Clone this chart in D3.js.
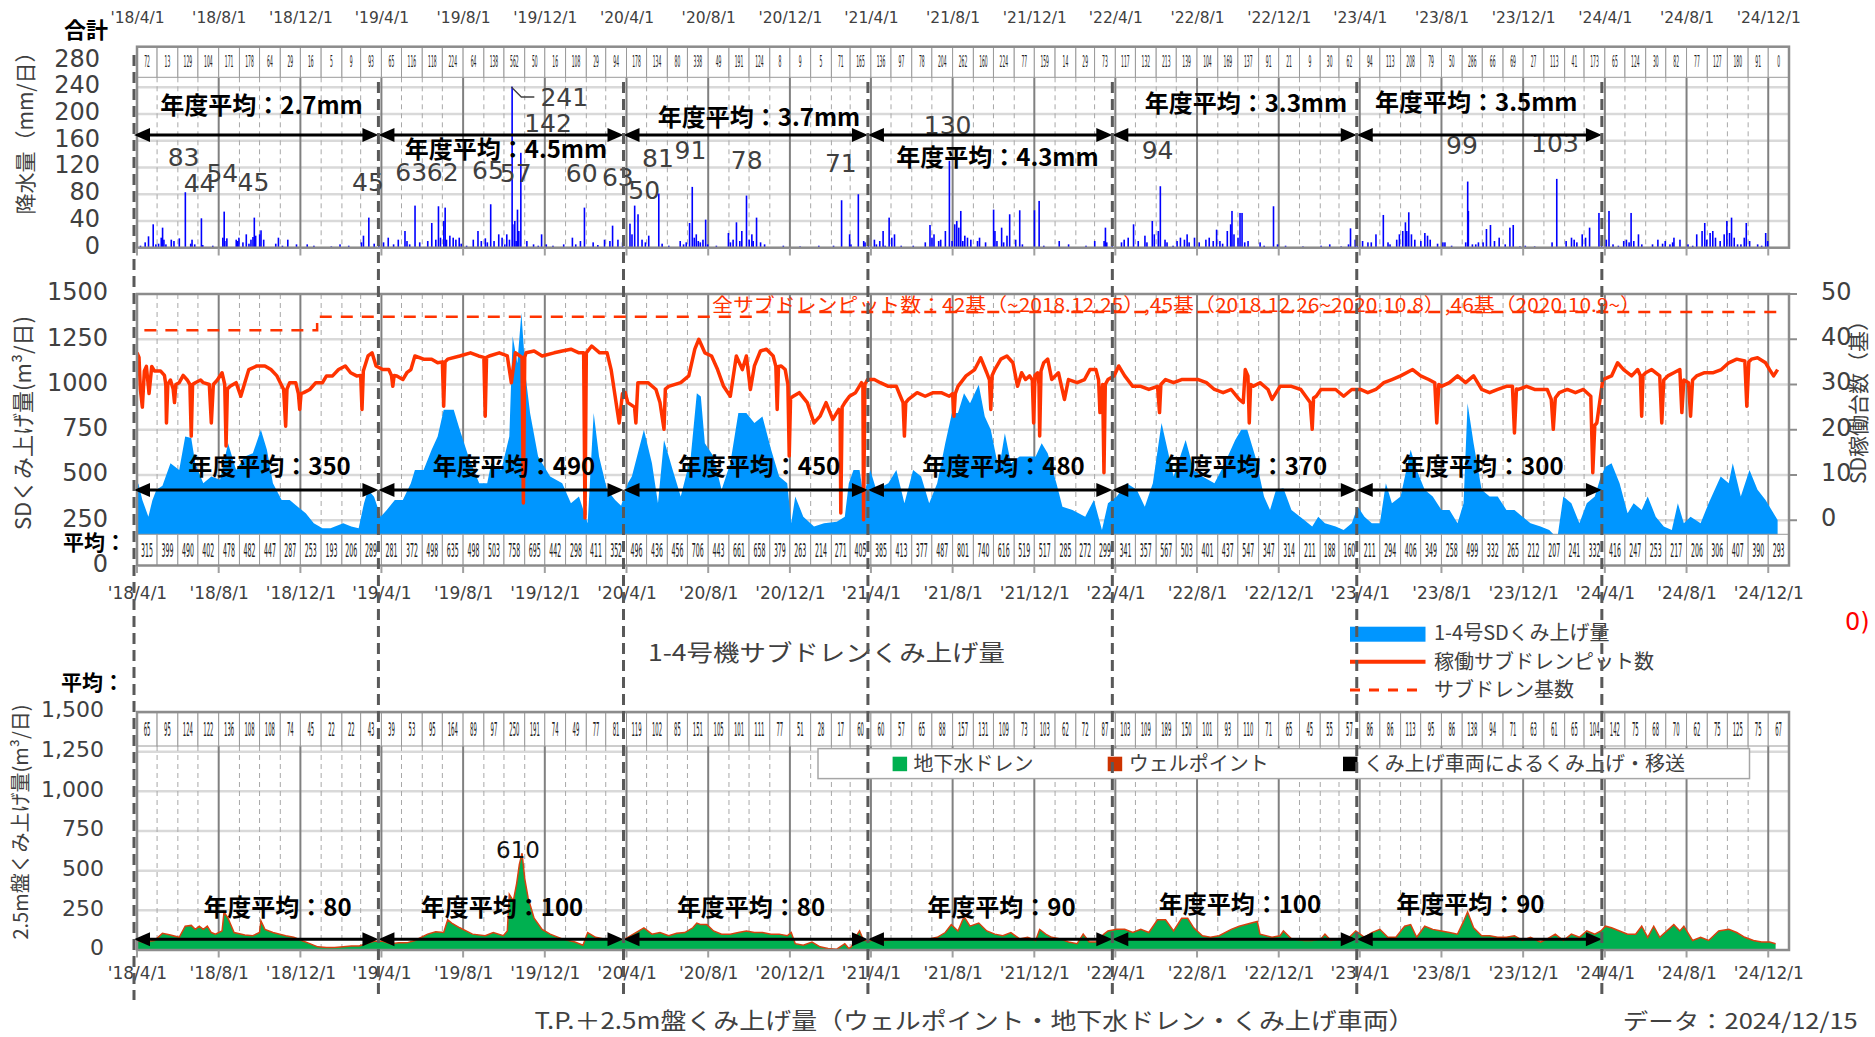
<!DOCTYPE html>
<html lang="ja"><head><meta charset="utf-8"><title>サブドレンくみ上げ量</title>
<script src="https://cdn.jsdelivr.net/npm/d3@7/dist/d3.min.js"></script>
<style>
html,body{margin:0;padding:0;background:#fff;overflow:hidden}
svg{display:block}
text{font-family:"DejaVu Sans","Noto Sans CJK JP",sans-serif}
.jp{font-family:"Noto Sans CJK JP","Noto Sans CJK SC",sans-serif}
</style></head><body>
<svg id="c" width="1875" height="1037"></svg>
<script>
// ===================== DATA =====================
const tickLabelFormat = "'%y/%-m/%-d";
const fiscalYearStarts = ["2018-04-01","2019-04-01","2020-04-01","2021-04-01","2022-04-01","2023-04-01","2024-04-01"];
const rainAvgLabels = ["年度平均：2.7mm","年度平均：4.5mm","年度平均：3.7mm","年度平均：4.3mm","年度平均：3.3mm","年度平均：3.5mm"];
const sdAvgValues = [350,490,450,480,370,300];
const avg25Values = [80,100,80,90,100,90];

// monthly values shown in the boxes (Apr 2018 .. Dec 2024)
const monthlyRain = [72,13,129,104,171,178,64,29,16,5,9,93, 65,116,118,224,64,138,562,50,16,108,29,94,
  178,134,80,338,49,191,124,8,9,5,71,165, 136,97,78,204,262,160,224,77,159,14,29,73,
  117,132,213,139,104,169,137,91,21,9,30,62, 94,113,208,79,50,286,66,69,27,113,41,173,
  65,124,30,82,77,127,180,91,0];
const monthlySD = [315,399,490,402,478,482,447,287,253,193,206,289, 281,372,498,635,498,503,758,695,442,298,411,352,
  496,436,456,706,443,661,658,379,263,214,271,405, 385,413,377,487,801,740,616,519,517,285,272,299,
  341,357,567,503,401,437,547,347,314,211,188,160, 211,294,406,349,258,499,332,265,212,207,241,332,
  416,247,253,217,206,306,407,390,293];
const monthly25 = [65,95,124,122,136,108,108,74,45,22,22,43, 39,53,95,164,89,97,250,191,74,49,77,81,
  119,102,85,151,105,101,111,77,51,28,17,60, 60,57,65,88,157,131,109,73,103,62,72,87,
  103,109,189,150,101,93,110,71,65,45,55,57, 86,86,113,95,86,138,94,71,63,61,65,104,
  142,75,68,70,62,75,125,75,67];

// daily rainfall (mm/day)
const rainDaily = [
["2018-04-05",3],["2018-04-12",8],["2018-04-17",17],["2018-04-24",35],["2018-04-28",5],["2018-05-02",6],["2018-05-06",15],["2018-05-08",30],["2018-05-10",12],["2018-05-13",5],["2018-05-21",12],["2018-05-25",10],["2018-06-02",14],["2018-06-11",83],["2018-06-19",6],["2018-06-21",12],["2018-06-25",5],["2018-07-05",44],["2018-07-07",4],["2018-07-22",3],["2018-08-06",15],["2018-08-08",54],["2018-08-09",10],["2018-08-12",14],["2018-08-26",12],["2018-08-28",10],["2018-08-30",15],["2018-09-05",8],["2018-09-10",20],["2018-09-14",6],["2018-09-17",12],["2018-09-20",16],["2018-09-22",45],["2018-09-24",18],["2018-09-30",20],["2018-10-02",26],["2018-10-06",12],["2018-10-24",6],["2018-10-28",15],["2018-11-03",3],["2018-11-11",12],["2018-11-24",5],["2018-12-10",5],["2018-12-20",3],["2019-01-15",2],["2019-01-28",5],["2019-02-10",3],["2019-03-01",8],["2019-03-04",18],["2019-03-12",45],["2019-03-20",6],["2019-03-27",4],
["2019-04-03",8],["2019-04-10",15],["2019-04-18",5],["2019-04-25",12],["2019-05-05",25],["2019-05-08",10],["2019-05-12",5],["2019-05-20",63],["2019-05-27",8],["2019-06-08",10],["2019-06-14",37],["2019-06-20",12],["2019-06-24",62],["2019-06-27",15],["2019-07-02",40],["2019-07-04",60],["2019-07-06",12],["2019-07-11",18],["2019-07-16",15],["2019-07-20",12],["2019-07-25",15],["2019-07-28",6],["2019-08-05",3],["2019-08-15",12],["2019-08-22",25],["2019-08-27",10],["2019-09-02",14],["2019-09-05",8],["2019-09-10",65],["2019-09-15",10],["2019-09-22",20],["2019-09-27",15],["2019-10-01",5],["2019-10-04",20],["2019-10-08",12],["2019-10-12",241],["2019-10-13",35],["2019-10-16",40],["2019-10-18",10],["2019-10-20",57],["2019-10-22",25],["2019-10-25",142],["2019-11-03",10],["2019-11-13",5],["2019-11-20",3],["2019-11-25",20],["2019-12-02",5],["2019-12-12",3],["2019-12-28",5],["2020-01-10",15],["2020-01-15",5],["2020-01-22",10],["2020-01-28",60],["2020-02-10",8],["2020-02-17",4],["2020-02-27",12],["2020-03-06",10],["2020-03-10",33],["2020-03-18",12],["2020-03-25",8],
["2020-04-05",36],["2020-04-08",20],["2020-04-12",63],["2020-04-17",50],["2020-04-23",12],["2020-04-28",8],["2020-05-03",18],["2020-05-18",81],["2020-05-23",6],["2020-06-02",3],["2020-06-19",10],["2020-06-24",5],["2020-06-28",8],["2020-07-03",37],["2020-07-07",91],["2020-07-10",15],["2020-07-13",20],["2020-07-16",10],["2020-07-19",8],["2020-07-23",12],["2020-07-27",42],["2020-07-30",5],["2020-08-12",3],["2020-08-30",22],["2020-09-02",8],["2020-09-06",12],["2020-09-11",38],["2020-09-16",10],["2020-09-19",25],["2020-09-26",78],["2020-09-30",12],["2020-10-04",20],["2020-10-06",10],["2020-10-11",45],["2020-10-17",8],["2020-10-23",5],["2020-11-20",3],["2020-12-15",2],["2021-01-12",3],["2021-02-03",3],["2021-02-15",71],["2021-02-27",20],["2021-03-01",5],["2021-03-12",80],["2021-03-20",10],["2021-03-22",8],["2021-03-27",15],
["2021-04-05",12],["2021-04-08",5],["2021-04-13",10],["2021-04-18",25],["2021-04-21",3],["2021-04-27",45],["2021-05-01",15],["2021-05-05",20],["2021-05-15",3],["2021-06-02",3],["2021-06-20",8],["2021-06-27",34],["2021-06-30",15],["2021-07-03",20],["2021-07-10",10],["2021-07-13",12],["2021-07-20",25],["2021-07-26",130],["2021-07-30",10],["2021-08-03",35],["2021-08-06",40],["2021-08-09",30],["2021-08-12",55],["2021-08-15",10],["2021-08-18",18],["2021-08-22",15],["2021-08-27",12],["2021-09-06",10],["2021-09-09",15],["2021-09-18",8],["2021-09-30",57],["2021-10-02",25],["2021-10-05",10],["2021-10-12",30],["2021-10-15",8],["2021-10-20",18],["2021-10-24",50],["2021-11-02",12],["2021-11-08",56],["2021-11-12",5],["2021-11-30",56],["2021-12-07",70],["2021-12-14",3],["2022-01-06",10],["2022-01-20",5],["2022-02-15",3],["2022-02-28",10],["2022-03-14",10],["2022-03-16",30],["2022-03-18",8],["2022-03-26",12],
["2022-04-09",8],["2022-04-13",12],["2022-04-19",15],["2022-04-27",35],["2022-05-04",10],["2022-05-14",18],["2022-05-17",8],["2022-05-25",40],["2022-05-28",20],["2022-06-03",25],["2022-06-06",92],["2022-06-13",12],["2022-06-16",8],["2022-06-25",3],["2022-07-01",10],["2022-07-06",15],["2022-07-12",12],["2022-07-16",20],["2022-07-19",8],["2022-07-27",15],["2022-08-03",8],["2022-08-13",12],["2022-08-18",15],["2022-08-24",10],["2022-08-29",27],["2022-09-03",10],["2022-09-07",6],["2022-09-14",25],["2022-09-19",35],["2022-09-21",55],["2022-09-24",20],["2022-09-30",15],["2022-10-03",52],["2022-10-06",52],["2022-10-10",8],["2022-10-15",10],["2022-11-02",8],["2022-11-08",3],["2022-11-22",62],["2022-11-28",5],["2022-12-10",3],["2023-01-05",2],["2023-02-01",3],["2023-02-14",5],["2023-03-03",2],["2023-03-14",5],["2023-03-17",29],["2023-03-24",12],["2023-03-27",5],
["2023-04-04",10],["2023-04-12",8],["2023-04-17",8],["2023-04-24",20],["2023-05-05",49],["2023-05-12",8],["2023-05-15",5],["2023-05-25",12],["2023-05-29",20],["2023-06-03",25],["2023-06-07",38],["2023-06-09",25],["2023-06-12",53],["2023-06-16",20],["2023-06-21",12],["2023-06-30",10],["2023-07-06",22],["2023-07-10",18],["2023-07-14",12],["2023-07-25",6],["2023-08-02",8],["2023-08-05",8],["2023-08-15",3],["2023-09-05",8],["2023-09-08",99],["2023-09-09",55],["2023-09-15",5],["2023-09-20",5],["2023-09-24",8],["2023-10-01",8],["2023-10-06",28],["2023-10-12",34],["2023-10-18",10],["2023-10-25",15],["2023-11-03",5],["2023-11-10",30],["2023-11-15",34],["2023-11-25",2],["2023-12-03",3],["2023-12-17",2],["2024-01-12",8],["2024-01-19",103],["2024-02-02",10],["2024-02-10",15],["2024-02-14",12],["2024-02-18",8],["2024-02-26",20],["2024-03-02",15],["2024-03-08",30],["2024-03-22",52],["2024-03-26",10],
["2024-04-02",12],["2024-04-06",55],["2024-04-12",5],["2024-04-20",3],["2024-04-28",10],["2024-05-02",12],["2024-05-06",8],["2024-05-09",52],["2024-05-13",10],["2024-05-20",20],["2024-05-25",5],["2024-06-10",5],["2024-06-18",12],["2024-06-25",6],["2024-06-29",10],["2024-07-06",5],["2024-07-10",8],["2024-07-12",15],["2024-07-21",12],["2024-08-02",5],["2024-08-09",3],["2024-08-15",20],["2024-08-23",25],["2024-08-27",37],["2024-08-30",12],["2024-09-04",22],["2024-09-08",25],["2024-09-12",15],["2024-09-19",10],["2024-09-25",20],["2024-09-29",40],["2024-10-03",22],["2024-10-06",45],["2024-10-10",15],["2024-10-15",5],["2024-10-20",5],["2024-10-25",15],["2024-10-28",37],["2024-11-02",10],["2024-11-14",5],["2024-11-20",3],["2024-11-26",22],["2024-11-29",10]
];

// 1-4 SD pumped volume (m3/day)
const sdPump = [
["2018-04-01",430],["2018-04-03",455],["2018-04-09",362],["2018-04-18",270],["2018-04-24",360],["2018-04-30",418],["2018-05-09",440],["2018-05-21",565],["2018-06-03",528],["2018-06-12",713],["2018-06-21",704],["2018-06-27",565],["2018-07-09",455],["2018-07-21",492],["2018-08-03",474],["2018-08-15",676],["2018-08-27",528],["2018-09-09",602],["2018-09-21",620],["2018-10-03",750],["2018-10-12",640],["2018-10-21",455],["2018-11-03",362],["2018-11-15",362],["2018-11-27",325],["2018-12-09",288],["2018-12-21",233],["2019-01-03",206],["2019-01-15",206],["2019-02-03",233],["2019-02-15",215],["2019-02-26",206],["2019-03-06",344],["2019-03-12",418],["2019-03-21",380],["2019-03-31",270],
["2019-04-09",307],["2019-04-21",362],["2019-05-03",362],["2019-05-15",455],["2019-05-21",528],["2019-06-03",528],["2019-06-15",639],["2019-06-24",713],["2019-07-03",860],["2019-07-18",860],["2019-07-27",750],["2019-08-09",602],["2019-08-25",455],["2019-09-06",455],["2019-09-12",565],["2019-09-27",528],["2019-10-09",713],["2019-10-14",1266],["2019-10-21",1118],["2019-10-27",1395],["2019-11-03",1026],["2019-11-09",842],["2019-11-21",602],["2019-12-09",492],["2019-12-27",455],["2020-01-09",344],["2020-01-21",381],["2020-02-03",233],["2020-02-12",842],["2020-02-20",602],["2020-03-03",418],["2020-03-15",362],["2020-03-24",330],
["2020-04-03",455],["2020-04-09",492],["2020-04-27",750],["2020-05-09",565],["2020-05-18",344],["2020-05-27",694],["2020-06-09",528],["2020-06-21",381],["2020-07-06",602],["2020-07-15",952],["2020-07-21",934],["2020-07-27",676],["2020-08-09",602],["2020-08-21",418],["2020-09-03",565],["2020-09-15",842],["2020-09-27",842],["2020-10-09",787],["2020-10-21",823],["2020-11-03",639],["2020-11-15",492],["2020-11-27",455],["2020-12-03",233],["2020-12-09",381],["2020-12-21",270],["2021-01-06",215],["2021-01-21",233],["2021-02-09",242],["2021-02-21",270],["2021-02-27",455],["2021-03-06",528],["2021-03-15",528],["2021-03-21",381],["2021-03-31",528],
["2021-04-09",418],["2021-04-27",455],["2021-05-09",528],["2021-05-21",344],["2021-06-03",528],["2021-06-15",492],["2021-06-27",344],["2021-07-09",455],["2021-07-21",676],["2021-07-31",842],["2021-08-09",842],["2021-08-18",952],["2021-08-27",897],["2021-09-09",998],["2021-09-18",823],["2021-09-27",750],["2021-10-09",528],["2021-10-18",731],["2021-10-27",565],["2021-11-09",602],["2021-11-21",602],["2021-12-03",602],["2021-12-12",676],["2021-12-21",620],["2022-01-03",455],["2022-01-12",325],["2022-01-27",307],["2022-02-15",270],["2022-02-28",362],["2022-03-12",196],["2022-03-21",344],
["2022-04-03",381],["2022-04-18",455],["2022-05-03",418],["2022-05-15",325],["2022-05-27",455],["2022-06-09",787],["2022-06-18",639],["2022-06-27",492],["2022-07-15",694],["2022-07-27",528],["2022-08-09",492],["2022-08-27",455],["2022-09-09",546],["2022-09-27",694],["2022-10-06",750],["2022-10-15",750],["2022-10-27",602],["2022-11-09",381],["2022-11-18",307],["2022-11-27",418],["2022-12-08",427],["2022-12-20",307],["2023-01-08",252],["2023-01-20",215],["2023-01-29",270],["2023-02-08",233],["2023-02-24",215],["2023-03-08",196],["2023-03-20",233],["2023-03-29",325],
["2023-04-08",270],["2023-04-19",233],["2023-05-01",233],["2023-05-10",455],["2023-05-19",344],["2023-06-01",381],["2023-06-16",639],["2023-06-25",528],["2023-07-07",418],["2023-07-19",381],["2023-08-01",307],["2023-08-13",307],["2023-08-25",233],["2023-09-03",344],["2023-09-09",897],["2023-09-18",676],["2023-09-30",418],["2023-10-12",381],["2023-10-24",381],["2023-11-06",307],["2023-11-18",307],["2023-11-30",270],["2023-12-12",233],["2023-12-27",215],["2024-01-09",196],["2024-01-21",150],["2024-01-30",381],["2024-02-11",344],["2024-02-23",233],["2024-03-05",344],["2024-03-17",381],["2024-03-26",492],
["2024-04-02",546],["2024-04-11",565],["2024-04-23",455],["2024-05-05",288],["2024-05-14",344],["2024-05-26",307],["2024-06-04",381],["2024-06-16",270],["2024-06-28",215],["2024-07-10",196],["2024-07-19",344],["2024-07-28",233],["2024-08-07",270],["2024-08-22",233],["2024-09-03",344],["2024-09-21",492],["2024-10-03",455],["2024-10-09",565],["2024-10-21",381],["2024-11-03",528],["2024-11-15",418],["2024-11-27",362],["2024-12-06",307],["2024-12-15",252]
];

// operating sub-drain pits (count)
const pitCount = [
["2018-04-01",37],["2018-04-04",36],["2018-04-06",29],["2018-04-09",25],["2018-04-12",33],["2018-04-15",34],["2018-04-19",28],["2018-04-23",34],["2018-04-27",33],["2018-05-06",33],["2018-05-12",32],["2018-05-14",30],["2018-05-15",21.5],["2018-05-17",30],["2018-05-21",31],["2018-05-25",29],["2018-05-27",26],["2018-05-29",30],["2018-06-03",30.4],["2018-06-09",32],["2018-06-15",31],["2018-06-19",30],["2018-06-21",18.6],["2018-06-23",30],["2018-06-27",30.4],["2018-07-05",31],["2018-07-09",30.4],["2018-07-18",30],["2018-07-21",21.5],["2018-07-24",30],["2018-07-30",31],["2018-08-06",32.6],["2018-08-10",30],["2018-08-12",16.4],["2018-08-14",29],["2018-08-18",29.6],["2018-08-27",30.4],["2018-09-03",27.4],["2018-09-09",30.4],["2018-09-15",33.3],["2018-09-27",34.1],["2018-10-09",34.1],["2018-10-18",33.3],["2018-10-27",31.9],["2018-11-06",28.9],["2018-11-09",20.8],["2018-11-11",29],["2018-11-15",30.4],["2018-11-24",30.4],["2018-11-28",28],["2018-11-30",24.5],["2018-12-02",28],["2018-12-06",28.2],["2018-12-15",28.9],["2018-12-24",30.4],["2019-01-03",30.4],["2019-01-09",31.9],["2019-01-18",31.9],["2019-01-27",33.3],["2019-02-06",34.1],["2019-02-14",32.6],["2019-02-23",31.9],["2019-03-01",32],["2019-03-03",24.5],["2019-03-05",33],["2019-03-12",36.3],["2019-03-18",37],["2019-03-24",34.1],
["2019-04-03",33.3],["2019-04-12",33.3],["2019-04-16",32],["2019-04-18",29.6],["2019-04-20",32],["2019-04-24",31.9],["2019-05-03",31.1],["2019-05-09",32.6],["2019-05-15",33.3],["2019-05-21",36.3],["2019-06-03",35.6],["2019-06-15",35.6],["2019-06-24",34.8],["2019-07-01",35],["2019-07-03",25.2],["2019-07-05",35],["2019-07-09",35.6],["2019-07-27",36.3],["2019-08-12",37],["2019-08-24",36.3],["2019-09-01",36],["2019-09-03",23],["2019-09-05",36],["2019-09-09",36.3],["2019-09-24",37],["2019-10-06",36.3],["2019-10-12",30.4],["2019-10-18",37],["2019-10-28",36],["2019-10-30",3.8],["2019-11-01",36],["2019-11-03",37],["2019-11-15",37.4],["2019-11-27",36.3],["2019-12-15",37],["2019-12-27",37.4],["2020-01-09",37.8],["2020-01-21",37],["2020-01-28",37],["2020-01-30",0.5],["2020-02-01",37],["2020-02-09",38.5],["2020-02-21",37],["2020-03-03",37],["2020-03-09",33.3],["2020-03-15",27.4],["2020-03-21",21.5],["2020-03-26",28],["2020-03-30",28.2],
["2020-04-03",26],["2020-04-13",25],["2020-04-15",21.5],["2020-04-18",30.4],["2020-04-21",30.4],["2020-05-03",30.4],["2020-05-15",28.9],["2020-05-21",26],["2020-05-27",20.1],["2020-05-29",29],["2020-06-03",29.6],["2020-06-21",30.4],["2020-07-03",31.9],["2020-07-12",37.8],["2020-07-18",40],["2020-07-27",37],["2020-08-06",36.3],["2020-08-15",33.3],["2020-08-24",29.6],["2020-09-03",27.4],["2020-09-12",36.3],["2020-09-21",33.3],["2020-09-27",36.3],["2020-10-03",28.9],["2020-10-09",34.1],["2020-10-18",37.4],["2020-10-27",37.8],["2020-11-06",36.3],["2020-11-10",34],["2020-11-12",24.5],["2020-11-14",34],["2020-11-18",34.1],["2020-11-24",33.3],["2020-11-28",30],["2020-11-30",14.2],["2020-12-02",27],["2020-12-06",27.4],["2020-12-15",28.2],["2020-12-27",26],["2021-01-06",21.5],["2021-01-15",23],["2021-01-24",26],["2021-02-03",22.3],["2021-02-12",24.5],["2021-02-14",24],["2021-02-15",1.6],["2021-02-17",25],["2021-02-21",26],["2021-02-28",27.4],["2021-03-09",28.2],["2021-03-18",30.4],["2021-03-20",30],["2021-03-21",0.1],["2021-03-23",30],["2021-03-27",31.1],
["2021-04-06",31.1],["2021-04-15",30.4],["2021-04-27",29.6],["2021-05-09",29.6],["2021-05-15",27.4],["2021-05-19",26],["2021-05-21",18.6],["2021-05-23",26],["2021-05-27",26.7],["2021-06-09",28.2],["2021-06-21",27.4],["2021-07-03",28.2],["2021-07-15",28.2],["2021-07-27",27.4],["2021-08-01",28],["2021-08-03",23],["2021-08-05",28],["2021-08-09",29.6],["2021-08-21",31.9],["2021-09-03",33.3],["2021-09-12",35.9],["2021-09-21",32.6],["2021-09-25",31],["2021-09-27",24.5],["2021-09-29",32],["2021-10-03",33.3],["2021-10-12",35.6],["2021-10-21",36.3],["2021-10-30",34.8],["2021-11-06",29.6],["2021-11-12",32.6],["2021-11-18",31.1],["2021-11-24",31.9],["2021-11-28",31],["2021-11-30",21.5],["2021-12-02",32],["2021-12-06",32.6],["2021-12-08",30],["2021-12-09",18.6],["2021-12-11",33],["2021-12-15",34.8],["2021-12-21",35.6],["2021-12-27",31.1],["2022-01-06",32.6],["2022-01-15",26.7],["2022-01-21",31.1],["2022-02-03",30.4],["2022-02-14",31.1],["2022-02-22",33.3],["2022-03-03",33.3],["2022-03-07",31],["2022-03-09",23.8],["2022-03-13",30],["2022-03-15",10.5],["2022-03-17",30],["2022-03-21",31.1],["2022-03-30",31.9],
["2022-04-06",34.1],["2022-04-15",31.9],["2022-04-27",29.6],["2022-05-09",29.6],["2022-05-21",28.9],["2022-06-03",29.6],["2022-06-06",23.8],["2022-06-08",30],["2022-06-15",31.1],["2022-06-27",30.4],["2022-07-09",31.1],["2022-07-21",31.1],["2022-08-03",31.1],["2022-08-15",30.4],["2022-08-27",28.9],["2022-09-09",28.2],["2022-09-21",28.9],["2022-10-03",26.7],["2022-10-09",26],["2022-10-12",33.3],["2022-10-16",31.9],["2022-10-18",21.5],["2022-10-20",30],["2022-10-24",29.6],["2022-11-03",30.4],["2022-11-15",28.9],["2022-11-21",26.7],["2022-12-03",29.6],["2022-12-20",29.6],["2023-01-03",28.9],["2023-01-17",26],["2023-01-20",20.1],["2023-01-22",27],["2023-01-26",27.4],["2023-02-02",28.9],["2023-02-13",28.9],["2023-02-24",28.9],["2023-03-08",27.4],["2023-03-20",28.9],
["2023-04-02",28.9],["2023-04-13",28.2],["2023-04-25",28.9],["2023-05-07",30.4],["2023-05-19",31.1],["2023-06-01",31.9],["2023-06-19",33.3],["2023-07-01",31.9],["2023-07-13",31.1],["2023-07-22",30.4],["2023-07-25",21.5],["2023-07-28",30],["2023-08-01",29.6],["2023-08-13",30.4],["2023-08-25",31.9],["2023-09-06",30.4],["2023-09-18",31.9],["2023-09-30",28.9],["2023-10-12",28.2],["2023-10-24",28.9],["2023-11-06",29.6],["2023-11-15",29.6],["2023-11-18",19.3],["2023-11-21",29],["2023-11-24",28.9],["2023-12-06",29.6],["2023-12-18",28.9],["2024-01-06",28.9],["2024-01-12",26.7],["2024-01-15",20.1],["2024-01-18",27],["2024-01-24",28.2],["2024-02-05",28.9],["2024-02-17",28.2],["2024-02-29",28.9],["2024-03-11",27.4],["2024-03-14",10.5],["2024-03-17",21],["2024-03-20",21.5],["2024-03-29",31.1],
["2024-04-11",31.9],["2024-04-20",34.8],["2024-04-29",33.3],["2024-05-11",31.9],["2024-05-20",33.3],["2024-05-24",32],["2024-05-26",23],["2024-05-28",32],["2024-06-01",32.6],["2024-06-10",33.3],["2024-06-22",31.9],["2024-06-25",21.5],["2024-06-28",31],["2024-07-04",31.9],["2024-07-13",32.6],["2024-07-22",33.3],["2024-07-25",23.8],["2024-07-28",31],["2024-08-04",30.4],["2024-08-07",23],["2024-08-10",31],["2024-08-16",31.9],["2024-08-28",32.6],["2024-09-10",32.6],["2024-09-22",33.3],["2024-10-03",34.8],["2024-10-15",35.6],["2024-10-27",35.2],["2024-10-30",25.2],["2024-11-02",35],["2024-11-06",35.6],["2024-11-15",35.9],["2024-11-27",34.8],["2024-12-03",33.3],["2024-12-09",31.9],["2024-12-15",33.3]
];

// total number of sub-drain pits (step)
const subdrainBase = [["2018-04-12",42],["2018-12-26",45],["2020-10-09",46],["2024-12-15",46]];

// T.P.+2.5m pumped volume (m3/day)
const pump25 = [
["2018-04-01",60],["2018-04-09",50],["2018-04-27",60],["2018-05-09",105],["2018-05-21",95],["2018-06-03",80],["2018-06-12",150],["2018-06-21",155],["2018-06-27",130],["2018-07-03",150],["2018-07-09",130],["2018-07-15",150],["2018-07-21",110],["2018-07-27",100],["2018-08-06",120],["2018-08-09",240],["2018-08-15",200],["2018-08-24",110],["2018-09-09",95],["2018-09-21",90],["2018-10-01",110],["2018-10-03",185],["2018-10-09",130],["2018-10-21",110],["2018-11-09",90],["2018-11-21",80],["2018-12-03",60],["2018-12-15",40],["2018-12-27",20],["2019-01-09",15],["2019-01-21",15],["2019-02-03",20],["2019-02-15",25],["2019-02-27",25],["2019-03-09",40],["2019-03-21",55],
["2019-04-03",55],["2019-04-15",40],["2019-04-27",45],["2019-05-09",45],["2019-05-21",60],["2019-06-09",100],["2019-06-21",115],["2019-07-03",110],["2019-07-09",190],["2019-07-15",170],["2019-07-27",140],["2019-08-15",100],["2019-09-03",90],["2019-09-15",110],["2019-09-30",90],["2019-10-06",120],["2019-10-09",350],["2019-10-15",310],["2019-10-20",420],["2019-10-24",540],["2019-10-28",610],["2019-11-01",450],["2019-11-06",330],["2019-11-15",200],["2019-11-27",130],["2019-12-09",100],["2019-12-27",70],["2020-01-15",50],["2020-01-27",30],["2020-02-03",110],["2020-02-15",80],["2020-02-27",70],["2020-03-15",70],["2020-03-27",65],
["2020-04-03",80],["2020-04-15",110],["2020-04-27",140],["2020-05-09",100],["2020-05-21",110],["2020-06-03",90],["2020-06-15",105],["2020-06-27",110],["2020-07-09",140],["2020-07-15",170],["2020-07-21",160],["2020-07-30",160],["2020-08-09",120],["2020-08-21",100],["2020-09-03",100],["2020-09-15",110],["2020-09-27",120],["2020-10-09",110],["2020-10-21",110],["2020-11-03",100],["2020-11-15",100],["2020-11-27",90],["2020-12-03",110],["2020-12-09",40],["2020-12-21",30],["2021-01-03",50],["2021-01-15",20],["2021-01-27",10],["2021-02-09",5],["2021-02-21",40],["2021-02-27",10],["2021-03-03",20],["2021-03-09",80],["2021-03-15",120],["2021-03-21",60],
["2021-04-03",60],["2021-04-21",60],["2021-05-09",70],["2021-06-03",70],["2021-06-27",70],["2021-07-09",80],["2021-07-21",110],["2021-07-30",160],["2021-08-09",120],["2021-08-18",210],["2021-08-27",150],["2021-09-09",170],["2021-09-21",120],["2021-10-03",100],["2021-10-15",90],["2021-10-27",110],["2021-11-09",70],["2021-11-21",80],["2021-12-03",60],["2021-12-09",130],["2021-12-18",100],["2021-12-27",80],["2022-01-09",70],["2022-01-21",50],["2022-02-03",40],["2022-02-12",100],["2022-02-21",50],["2022-03-03",50],["2022-03-15",100],["2022-03-21",120],
["2022-04-03",130],["2022-04-15",130],["2022-04-27",110],["2022-05-09",130],["2022-05-21",110],["2022-06-03",190],["2022-06-15",190],["2022-06-27",120],["2022-07-09",200],["2022-07-18",200],["2022-07-27",140],["2022-08-09",90],["2022-08-21",80],["2022-09-03",90],["2022-09-21",130],["2022-10-03",150],["2022-10-21",170],["2022-10-30",180],["2022-11-03",100],["2022-11-21",80],["2022-12-03",90],["2022-12-08",120],["2022-12-20",70],["2023-01-08",60],["2023-01-20",60],["2023-02-02",70],["2023-02-08",100],["2023-02-17",60],["2023-03-02",70],["2023-03-14",70],["2023-03-26",120],
["2023-04-08",80],["2023-04-19",110],["2023-05-01",130],["2023-05-13",80],["2023-05-25",80],["2023-06-07",150],["2023-06-16",160],["2023-06-25",80],["2023-07-07",150],["2023-07-19",130],["2023-08-01",120],["2023-08-13",110],["2023-08-25",100],["2023-09-03",180],["2023-09-09",240],["2023-09-18",140],["2023-09-30",90],["2023-10-12",90],["2023-10-24",80],["2023-11-06",80],["2023-11-18",90],["2023-11-30",60],["2023-12-12",80],["2023-12-27",50],["2024-01-06",70],["2024-01-18",100],["2024-01-30",60],["2024-02-11",100],["2024-02-23",80],["2024-03-05",120],["2024-03-17",100],["2024-03-26",120],
["2024-04-02",150],["2024-04-11",140],["2024-04-23",120],["2024-05-05",100],["2024-05-17",100],["2024-05-26",150],["2024-06-04",80],["2024-06-13",150],["2024-06-22",80],["2024-07-13",160],["2024-07-22",120],["2024-07-28",150],["2024-08-10",60],["2024-08-22",80],["2024-09-03",60],["2024-09-18",120],["2024-10-03",130],["2024-10-15",110],["2024-10-27",80],["2024-11-09",60],["2024-11-21",50],["2024-12-03",50],["2024-12-12",40]
];

// peak value annotations on the rainfall panel
const rainPeakLabels = [["2018-06-11","83"],["2018-07-05","44"],["2018-08-08","54"],["2018-09-22","45"],["2019-03-12","45"],["2019-05-20","63"],["2019-06-24","62"],["2019-09-10","65"],["2019-10-20","57"],["2019-10-12","241"],["2019-10-25","142"],["2020-01-28","60"],["2020-04-12","63"],["2020-04-17","50"],["2020-05-18","81"],["2020-07-07","91"],["2020-09-26","78"],["2021-02-15","71"],["2021-07-26","130"],["2022-06-06","94"],["2023-09-08","99"],["2024-01-19","103"]];
const peak25Label = ["2019-10-28","610"];

// ===================== LAYOUT (positions/styles) =====================
const rainPeakPos = [[-1,157],[-1,183],[-1,173],[0,182],[0,182],[-3,172],[5,172],[-2,170],[-1,173],[53,97],[28,123],[-2,173],[-16,177],[7,190],[0,158],[-1,150],[1,160],[0,163],[-1,125],[-2,150],[-5,145],[-1,143]];
const rainAvgPos = [[2,106],[2,150],[10,118],[4,158],[8,104],[-6,103]];
const sdAvgPos = [[10,467],[10,467],[10,467],[10,467],[8,467],[0,467]];
const avg25Pos = [[18,908],[-2,908],[2,908],[8,908],[2,905],[-12,905]];

const svg = d3.select("#c");
const P = d3.timeParse("%Y-%m-%d");
const X0 = 137, X1 = 1789;
const x = d3.scaleTime().domain([new Date(2018,3,1), new Date(2025,0,1)]).range([X0, X1]);
const months = d3.timeMonth.range(new Date(2018,3,1), new Date(2025,0,1));
const tickDates = months.filter((d,i)=> i%4===0);
const fmtTick = d3.timeFormat(tickLabelFormat);
const TXT = "#404040";

const yR = d3.scaleLinear([0,280],[247.7,60.6]);
const yS = d3.scaleLinear([0,1500],[565.5,294]);
const yN = d3.scaleLinear([0,50],[yS(250), yS(1500)]);
const yB = d3.scaleLinear([0,1500],[950,712]);

function grid(yScale, vals, top, bot){
  const g = svg.append("g");
  g.selectAll(null).data(vals).join("line")
    .attr("x1",X0).attr("x2",X1).attr("y1",d=>yScale(d)).attr("y2",d=>yScale(d))
    .attr("stroke","#d9d9d9").attr("stroke-width",2.5);
  g.selectAll(null).data(months.slice(1)).join("line")
    .attr("x1",d=>x(d)).attr("x2",d=>x(d)).attr("y1",top).attr("y2",bot)
    .attr("stroke",(d,i)=>((i+1)%4===0)?"#808080":"#a8a8a8")
    .attr("stroke-width",(d,i)=>((i+1)%4===0)?2:1)
    .attr("stroke-dasharray",(d,i)=>((i+1)%4===0)?null:"5,4");
  return g;
}
function bottomTicks(y){
  svg.append("g").selectAll(null).data(tickDates).join("line")
    .attr("x1",d=>x(d)).attr("x2",d=>x(d)).attr("y1",y).attr("y2",y+7)
    .attr("stroke","#a0a0a0").attr("stroke-width",2);
}
function numberRow(vals, y0, y1, fs, sx){
  const g = svg.append("g");
  g.selectAll(null).data(months).join("rect")
    .attr("x",d=>x(d)).attr("y",y0).attr("width",d=>x(d3.timeMonth.offset(d,1))-x(d)).attr("height",y1-y0)
    .attr("fill","#fff").attr("stroke","#9a9a9a").attr("stroke-width",1);
  g.selectAll(null).data(months).join("text")
    .attr("transform",d=>`translate(${(x(d)+x(d3.timeMonth.offset(d,1)))/2},${(y0+y1)/2}) scale(${sx},1)`)
    .attr("text-anchor","middle").attr("dy","0.36em").attr("font-size",fs).attr("fill","#222")
    .text((d,i)=>vals[i]);
}
function frame(y0,y1){
  svg.append("rect").attr("x",X0).attr("y",y0).attr("width",X1-X0).attr("height",y1-y0)
    .attr("fill","none").attr("stroke","#8c8c8c").attr("stroke-width",2.5);
}
function xLabels(y, fs){
  const g = svg.append("g").attr("transform",`translate(0,${y})`)
    .call(d3.axisBottom(x).tickValues(tickDates).tickFormat(fmtTick).tickSize(0).tickPadding(0));
  g.select(".domain").remove();
  g.attr("font-family",null).attr("font-size",null);
  g.selectAll("text").attr("font-size",fs).attr("fill",TXT).attr("dy","0.35em").attr("y",0);
}
function yLabels(scale, vals, xPos, fs, side, fmt, dyShift){
  const ax = side==="left" ? d3.axisLeft(scale) : d3.axisRight(scale);
  const g = svg.append("g").attr("transform",`translate(${xPos},${dyShift})`)
    .call(ax.tickValues(vals).tickFormat(fmt).tickSize(0).tickPadding(0));
  g.select(".domain").remove();
  g.attr("font-family",null).attr("font-size",null);
  g.selectAll("text").attr("font-size",fs).attr("fill",TXT).attr("dy","0.35em").attr("x",0);
}
function arrow(xa, xb, y){
  const g = svg.append("g");
  g.append("line").attr("x1",xa+10).attr("x2",xb-10).attr("y1",y).attr("y2",y).attr("stroke","#000").attr("stroke-width",3);
  g.append("path").attr("d",`M${xa},${y}L${xa+16},${y-7}L${xa+16},${y+7}Z`).attr("fill","#000");
  g.append("path").attr("d",`M${xb},${y}L${xb-16},${y-7}L${xb-16},${y+7}Z`).attr("fill","#000");
}
function boldLabel(text, cx, cy, fs){
  svg.append("text").attr("class","jp").attr("x",cx).attr("y",cy).attr("dy","0.35em")
    .attr("text-anchor","middle").attr("font-size",fs).attr("font-weight","bold").attr("fill","#000").text(text);
}
const fyX = fiscalYearStarts.map(s=>x(P(s))-3);
const fyMid = fiscalYearStarts.slice(0,6).map(s=>x(d3.timeMonth.offset(P(s),6)));

// ===================== TOP: rainfall =====================
grid(yR,[40,80,120,160,200,240],77.3,247.7);
svg.append("g").selectAll(null).data(rainDaily).join("rect")
  .attr("x",d=>x(P(d[0]))).attr("width",1.6)
  .attr("y",d=>yR(d[1])).attr("height",d=>yR(0)-yR(d[1])).attr("fill","#0000ff");
numberRow(monthlyRain,46.7,77.3,15,0.3);
frame(46.7,247.7);
bottomTicks(248.5);
xLabels(18,15.5);
yLabels(yR,[0,40,80,120,160,200,240,280],100,24,"left",d3.format("d"),-3);
svg.append("text").attr("class","jp").attr("x",86).attr("y",30).attr("dy","0.35em").attr("text-anchor","middle")
  .attr("font-size",22).attr("font-weight","bold").attr("fill","#000").text("合計");
svg.append("text").attr("class","jp").attr("transform","translate(26,128) rotate(-90)").attr("dy","0.35em")
  .attr("text-anchor","middle").attr("font-size",21).attr("fill",TXT).text("降水量（mm/日）");
// peak labels
svg.append("g").selectAll(null).data(rainPeakLabels).join("text")
  .attr("x",(d,i)=>x(P(d[0]))+rainPeakPos[i][0]).attr("y",(d,i)=>rainPeakPos[i][1]).attr("dy","0.35em")
  .attr("text-anchor","middle").attr("font-size",25).attr("fill",TXT).text(d=>d[1]);
{ const px = x(P("2019-10-12"));
  svg.append("path").attr("d",`M${px},87L${px+10},97L${px+23},97`).attr("fill","none").attr("stroke",TXT).attr("stroke-width",1.3); }
rainAvgLabels.forEach((t,i)=>{ arrow(fyX[i],fyX[i+1],135); boldLabel(t,fyMid[i]+rainAvgPos[i][0],rainAvgPos[i][1],24); });

// ===================== MIDDLE: SD pumping =====================
svg.append("clipPath").attr("id","clipM").append("rect").attr("x",X0).attr("y",294).attr("width",X1-X0).attr("height",271.5);
grid(yS,[250,500,750,1000,1250],294,534.3);
const gM = svg.append("g").attr("clip-path","url(#clipM)");
gM.append("path").datum(sdPump)
  .attr("d",d3.area().x(d=>x(P(d[0]))).y0(yS(0)).y1(d=>yS(d[1])))
  .attr("fill","#0096ff");
gM.append("path").datum(subdrainBase)
  .attr("d",d3.line().x(d=>x(P(d[0]))).y(d=>yN(d[1])).curve(d3.curveStepAfter))
  .attr("fill","none").attr("stroke","#ff3300").attr("stroke-width",2.5).attr("stroke-dasharray","12,9");
gM.append("path").datum(pitCount)
  .attr("d",d3.line().x(d=>x(P(d[0]))).y(d=>yN(d[1])))
  .attr("fill","none").attr("stroke","#ff3300").attr("stroke-width",3.5).attr("stroke-linejoin","round");
svg.append("text").attr("class","jp").attr("x",712).attr("y",305).attr("dy","0.35em")
  .attr("font-size",19).attr("fill","#ff3300").attr("textLength",929).attr("lengthAdjust","spacingAndGlyphs")
  .text("全サブドレンピット数：42基（~2018.12.25）,45基（2018.12.26~2020.10.8）,46基（2020.10.9~）");
numberRow(monthlySD,534.3,565.5,19,0.33);
frame(294,565.5);
svg.append("g").selectAll(null).data([0,10,20,30,40,50]).join("line")
  .attr("x1",X1).attr("x2",X1+8).attr("y1",d=>yN(d)).attr("y2",d=>yN(d)).attr("stroke","#8c8c8c").attr("stroke-width",2);
bottomTicks(566);
xLabels(593,17);
yLabels(yS,[0,250,500,750,1000,1250,1500],108,24,"left",d3.format("d"),-2.5);
yLabels(yN,[0,10,20,30,40,50],1821,24,"right",d3.format("d"),-3);
svg.append("text").attr("class","jp").attr("transform","translate(23,423) rotate(-90)").attr("dy","0.35em")
  .attr("text-anchor","middle").attr("font-size",22).attr("fill",TXT).text("SDくみ上げ量(m³/日)");
svg.append("text").attr("class","jp").attr("transform","translate(1859,397) rotate(-90)").attr("dy","0.35em")
  .attr("text-anchor","middle").attr("font-size",21).attr("fill",TXT).text("SD稼働台数（基）");
svg.append("text").attr("class","jp").attr("x",63).attr("y",543).attr("dy","0.35em")
  .attr("font-size",21).attr("font-weight","bold").attr("fill","#000").text("平均：");
svg.append("text").attr("x",1845).attr("y",622).attr("dy","0.35em").attr("font-size",24).attr("fill","#ff0000").text("0)");
sdAvgValues.forEach((v,i)=>{ arrow(fyX[i],fyX[i+1],490); boldLabel("年度平均："+v,fyMid[i]+sdAvgPos[i][0],sdAvgPos[i][1],24); });

// middle title + legend
svg.append("text").attr("class","jp").attr("x",648).attr("y",653).attr("dy","0.35em")
  .attr("font-size",23).attr("fill",TXT).attr("textLength",357).attr("lengthAdjust","spacingAndGlyphs").text("1-4号機サブドレンくみ上げ量");
{
  const lg = svg.append("g");
  lg.append("rect").attr("x",1350).attr("y",626.7).attr("width",75.5).attr("height",15).attr("fill","#0096ff");
  lg.append("line").attr("x1",1350).attr("x2",1425.5).attr("y1",661.7).attr("y2",661.7).attr("stroke","#ff3300").attr("stroke-width",4);
  lg.append("line").attr("x1",1350).attr("x2",1425.5).attr("y1",690).attr("y2",690).attr("stroke","#ff3300").attr("stroke-width",3).attr("stroke-dasharray","10,9");
  [["1-4号SDくみ上げ量",633],["稼働サブドレンピット数",661.5],["サブドレン基数",690]].forEach(t=>{
    lg.append("text").attr("class","jp").attr("x",1434).attr("y",t[1]).attr("dy","0.35em").attr("font-size",20).attr("fill",TXT).text(t[0]);
  });
}

// ===================== BOTTOM: T.P.+2.5m =====================
svg.append("clipPath").attr("id","clipB").append("rect").attr("x",X0).attr("y",712).attr("width",X1-X0).attr("height",238);
grid(yB,[250,500,750,1000,1250],746,950);
const gB = svg.append("g").attr("clip-path","url(#clipB)");
gB.append("path").datum(pump25)
  .attr("d",d3.area().x(d=>x(P(d[0]))).y0(yB(0)).y1(d=>yB(d[1])))
  .attr("fill","#00b050");
gB.append("path").datum(pump25)
  .attr("d",d3.line().x(d=>x(P(d[0]))).y(d=>yB(d[1])))
  .attr("fill","none").attr("stroke","#d8400f").attr("stroke-width",1.5);
numberRow(monthly25,712.7,746,19,0.28);
// legend box
{
  const lg = svg.append("g");
  lg.append("rect").attr("x",818).attr("y",748.6).attr("width",931.5).attr("height",30).attr("fill","#fff").attr("stroke","#a6a6a6").attr("stroke-width",1.5);
  [["#00b050",892.6,"地下水ドレン"],["#cc3300",1107.7,"ウェルポイント"],["#000000",1343,"くみ上げ車両によるくみ上げ・移送"]].forEach(t=>{
    lg.append("rect").attr("x",t[1]).attr("y",756.7).attr("width",14.5).attr("height",14.5).attr("fill",t[0]);
    lg.append("text").attr("class","jp").attr("x",t[1]+21).attr("y",764).attr("dy","0.35em").attr("font-size",20).attr("fill",TXT).text(t[2]);
  });
}
frame(712,950);
bottomTicks(950.5);
xLabels(973,17);
yLabels(yB,[0,250,500,750,1000,1250,1500],104,22,"left",d3.format(","),-3);
svg.append("text").attr("class","jp").attr("transform","translate(21,822) rotate(-90)").attr("dy","0.35em")
  .attr("text-anchor","middle").attr("font-size",20).attr("fill",TXT).text("2.5m盤くみ上げ量(m³/日)");
svg.append("text").attr("class","jp").attr("x",61).attr("y",683).attr("dy","0.35em")
  .attr("font-size",21).attr("font-weight","bold").attr("fill","#000").text("平均：");
svg.append("text").attr("x",x(P(peak25Label[0]))-4).attr("y",850).attr("dy","0.35em").attr("text-anchor","middle")
  .attr("font-size",23).attr("fill","#111").text(peak25Label[1]);
avg25Values.forEach((v,i)=>{ arrow(fyX[i],fyX[i+1],939.3); boldLabel("年度平均："+v,fyMid[i]+avg25Pos[i][0],avg25Pos[i][1],24); });
svg.append("text").attr("class","jp").attr("x",534.5).attr("y",1021).attr("dy","0.35em").attr("font-size",23).attr("fill",TXT)
  .attr("textLength",880).attr("lengthAdjust","spacingAndGlyphs").text("T.P.＋2.5m盤くみ上げ量（ウェルポイント・地下水ドレン・くみ上げ車両）");
svg.append("text").attr("class","jp").attr("x",1622.7).attr("y",1021).attr("dy","0.35em").attr("font-size",22).attr("fill",TXT)
  .attr("textLength",235).attr("lengthAdjust","spacingAndGlyphs").text("データ：2024/12/15");

// ===================== FY boundary overlay lines =====================
svg.append("g").selectAll(null).data(fyX).join("line")
  .attr("x1",d=>d).attr("x2",d=>d).attr("y1",(d,i)=>i===0?55:82).attr("y2",1000)
  .attr("stroke","#595959").attr("stroke-width",3).attr("stroke-dasharray","11,6");
</script></body></html>
